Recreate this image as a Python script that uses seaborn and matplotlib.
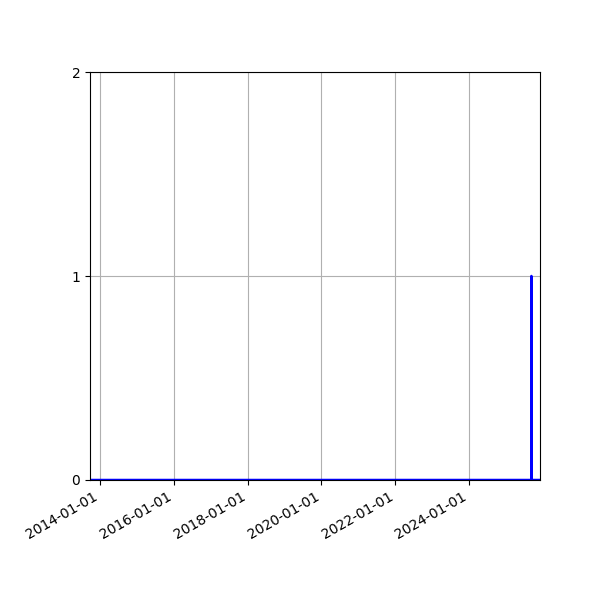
import matplotlib
matplotlib.use('Agg')
import matplotlib.pyplot as plt
import matplotlib.dates as mdates
import pandas as pd
import seaborn as sns

# Data: flat at 0 with a single spike to 1
dates = ['2013-09-22', '2025-09-09', '2025-09-10', '2025-09-11', '2025-12-04']
values = [0, 0, 1, 0, 0]

df = pd.DataFrame({'date': pd.to_datetime(dates), 'value': values})

fig, ax = plt.subplots(figsize=(6, 6), dpi=100)
sns.lineplot(data=df, x='date', y='value', color='blue', linewidth=1.8, ax=ax)

ax.set_xlim(df['date'].min(), df['date'].max())
ax.set_ylim(0, 2)
ax.set_yticks([0, 1, 2])
ax.set_xlabel('')
ax.set_ylabel('')
ax.xaxis.set_major_locator(mdates.YearLocator(2))
ax.xaxis.set_major_formatter(mdates.DateFormatter('%Y-%m-%d'))
ax.grid(True)
fig.autofmt_xdate()
fig.subplots_adjust(left=0.15, right=0.9, top=0.88, bottom=0.2)

fig.savefig('out.png')
